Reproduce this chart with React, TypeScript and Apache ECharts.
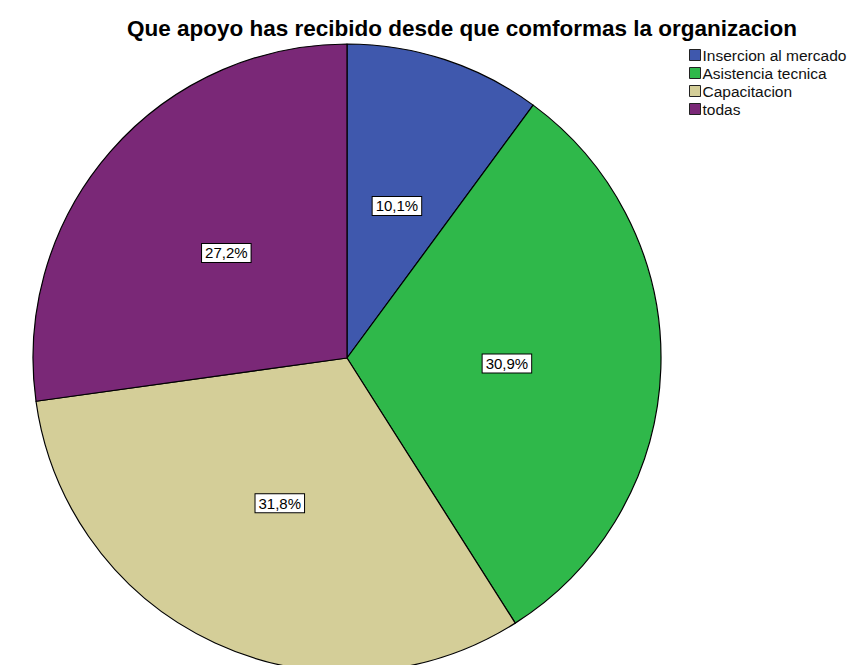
import React, { useEffect, useRef } from "react";
import * as echarts from "echarts";

const title = "Que apoyo has recibido desde que comformas la organizacion";
const categories = ["Insercion al mercado", "Asistencia tecnica", "Capacitacion", "todas"];
const values = [10.1, 30.9, 31.8, 27.2];
const colors = ["#3f58ad", "#2fb84a", "#d4ce98", "#7a2877"];

export default function App() {
  const ref = useRef<HTMLDivElement>(null);
  useEffect(() => {
    if (!ref.current) return;
    const chart = echarts.init(ref.current, null, { renderer: "svg" });
    const font = "'Liberation Sans', Arial, sans-serif";
    chart.setOption({
      animation: false,
      backgroundColor: "#ffffff",
      title: {
        text: title,
        left: 457,
        textAlign: "center",
        top: 12,
        textStyle: { fontFamily: font, fontSize: 22.5, fontWeight: "bold", color: "#000" },
      },
      legend: {
        orient: "vertical",
        left: 684,
        top: 42,
        icon: "rect",
        itemWidth: 11,
        itemHeight: 11,
        itemGap: 2,
        itemStyle: { borderColor: "#222", borderWidth: 1 },
        textStyle: { fontFamily: font, fontSize: 15.5, lineHeight: 15, color: "#111", padding: [0, 0, 0, -3] },
        data: categories,
      },
      series: [
        {
          type: "pie",
          center: [347, 358],
          radius: 314,
          startAngle: 90,
          clockwise: true,
          avoidLabelOverlap: false,
          itemStyle: { borderColor: "#000", borderWidth: 1.2 },
          emphasis: { disabled: true },
          label: {
            show: true,
            position: "inside",
            formatter: (p: any) => p.value.toFixed(1).replace(".", ",") + "%",
            fontFamily: font,
            fontSize: 15,
            color: "#000",
            backgroundColor: "#fff",
            borderColor: "#000",
            borderWidth: 1,
            padding: [2, 3, 1, 3],
          },
          labelLine: { show: false },
          data: categories.map((c, i) => ({ name: c, value: values[i], itemStyle: { color: colors[i] } })),
        },
      ],
    });
    return () => chart.dispose();
  }, []);
  return <div ref={ref} style={{ position: "fixed", left: 0, top: 0, width: 849, height: 665 }} />;
}
